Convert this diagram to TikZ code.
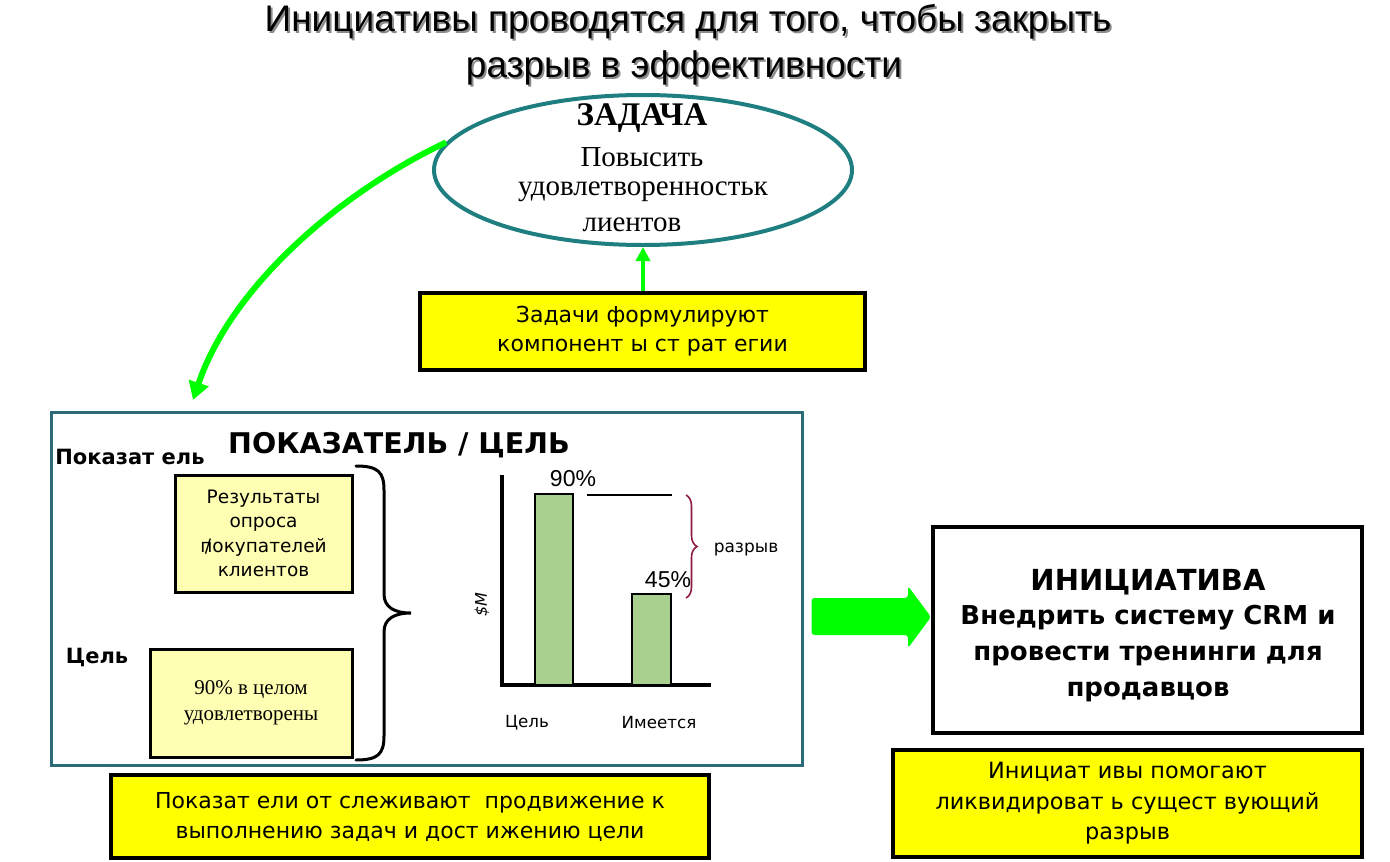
\documentclass[tikz,border=0pt]{standalone}
\usepackage{fontspec}
\setmainfont{Liberation Sans}
\newfontfamily\tms{Liberation Serif}
\newfontfamily\tah{DejaVu Sans}
\usetikzlibrary{arrows.meta,decorations.pathreplacing,shapes.geometric}
\definecolor{ybox}{HTML}{FFFF00}
\definecolor{lybox}{HTML}{FFFFB3}
\definecolor{teal1}{HTML}{1F7F80}
\definecolor{teal2}{HTML}{2E6B78}
\definecolor{gArrow}{HTML}{00FF00}
\definecolor{barg}{HTML}{A9D08E}
\definecolor{gapred}{HTML}{8B1A3C}
\begin{document}
\begin{tikzpicture}[x=1pt,y=-1pt,
  ybx/.style={draw=black,line width=4pt,fill=ybox,inner sep=0pt,align=center},
  lbx/.style={draw=black,line width=3pt,fill=lybox,inner sep=0pt,align=center},
  garrow/.style={draw=gArrow,line width=6pt,-{Triangle[length=18pt,width=20pt]}},
  txt/.style={inner sep=0pt,align=center},
  bar/.style={draw=black,line width=2pt,fill=barg}]
\useasboundingbox (0,0) rectangle (1390,862);
% title
\tikzset{ttl/.style={txt,font=\fontsize{37}{44}\selectfont}}
\node[ttl,text=black!45] at (690,24) {Инициативы проводятся для того, чтобы закрыть};
\node[ttl,text=black!45] at (686,70) {разрыв в эффективности};
\node[ttl] (title1) at (688,22) {Инициативы проводятся для того, чтобы закрыть};
\node[ttl] (title2) at (684,68) {разрыв в эффективности};
% task ellipse
\node[ellipse,draw=teal1,line width=4pt,minimum width=418pt,minimum height=150pt,inner sep=0pt] (task) at (643,170) {};
\node[txt,font=\tms\bfseries\fontsize{33}{36}\selectfont] (t1) at (642,118) {ЗАДАЧА};
\node[txt,font=\tms\fontsize{29}{32}\selectfont] (t2) at (642,157) {Повысить};
\node[txt,font=\tms\fontsize{29}{32}\selectfont] (t3) at (643,192) {удовлетворенностьк};
\node[txt,font=\tms\fontsize{29}{32}\selectfont] (t4) at (632,225) {лиентов};
% formulate box
\node[ybx,minimum width=445pt,minimum height=77pt,font=\tah\fontsize{22}{29}\selectfont] (form) at (642.5,331.5)
  {Задачи формулируют\\ компонент ы ст рат егии};
\draw[draw=gArrow,line width=4pt,-{Triangle[length=14pt,width=14pt]}] (form.north -| task.south) -- (task.south);
% curved arrow
\coordinate (ctip) at (193,400);
\draw[garrow] (task.172) .. controls (335,195) and (230,290) .. (ctip);
% big box
\node[draw=teal2,line width=3pt,minimum width=751pt,minimum height=353pt,inner sep=0pt] (kpi) at (426.5,588.5) {};
\node[txt,font=\tah\bfseries\fontsize{28.5}{32}\selectfont] (kpititle) at (399,445) {ПОКАЗАТЕЛЬ / ЦЕЛЬ};
\node[txt,font=\tah\bfseries\fontsize{21}{24}\selectfont] (lbl1) at (130,457) {Показат ель};
\node[txt,font=\tah\bfseries\fontsize{21}{24}\selectfont] (lbl2) at (97,657) {Цель};
\node[lbx,minimum width=177pt,minimum height=117pt,font=\tah\fontsize{18.5}{24.5}\selectfont] (res) at (263.5,533.5)
  {Результаты\\ опроса\\ \rlap{\kern0.25em/}покупателей\\ клиентов};
\node[lbx,minimum width=202pt,minimum height=108pt,font=\tms\fontsize{21}{26}\selectfont] (goal) at (251,703)
  {90\% в целом\\ удовлетворены};
% big brace
\draw[line width=3pt,line cap=round] (356,466) .. controls (378,466) and (384,472) .. (384,490)
  -- (384,594) .. controls (384,607) and (394,613) .. (411,613)
  .. controls (394,613) and (384,619) .. (384,632)
  -- (384,736) .. controls (384,754) and (378,760) .. (356,760);
% chart
\coordinate (origin) at (502,685);
\draw[line width=4pt] (502,475) -- (origin) -- (711,685);
\draw[bar] (535,494) rectangle (573,685);
\draw[bar] (632,594) rectangle (671,685);
\draw[line width=2pt] (587,495) -- (672,495);
\node[txt,font=\fontsize{23}{26}\selectfont] (p90) at (573,479) {90\%};
\node[txt,font=\fontsize{23}{26}\selectfont] (p45) at (668,580) {45\%};
\draw[gapred,line width=1.6pt,decorate,decoration={brace,amplitude=11pt}] (686,495) -- (686,598);
\node[txt,font=\tah\fontsize{17}{20}\selectfont] (gap) at (746,549) {разрыв};
\node[txt,rotate=90,font=\tah\itshape\fontsize{16}{20}\selectfont] (dm) at (482,605) {\$M};
\node[txt,font=\tah\fontsize{16.7}{20}\selectfont] (xl1) at (527,723) {Цель};
\node[txt,font=\tah\fontsize{16.7}{20}\selectfont] (xl2) at (659,723) {Имеется};
% bottom-left box
\node[ybx,minimum width=598pt,minimum height=83pt,font=\tah\fontsize{22}{30}\selectfont] (track) at (410,816.5)
  {Показат ели от слеживают\ \ продвижение к\\ выполнению задач и дост ижению цели};
% initiative box
\node[draw=black,line width=4pt,fill=white,minimum width=429pt,minimum height=206pt,inner sep=0pt] (init) at (1147.5,630) {};
\node[txt,font=\tah\bfseries\fontsize{26}{36}\selectfont] (inittext) at (1148,636)
  {\fontsize{29}{36}\selectfont ИНИЦИАТИВА\\[-2pt]
   Внедрить систему CRM и\\ провести тренинги для\\ продавцов};
\node[ybx,minimum width=469pt,minimum height=107pt,font=\tah\fontsize{22.4}{30.5}\selectfont] (help) at (1127.5,803.5)
  {Инициат ивы помогают\\ ликвидироват ь сущест вующий\\ разрыв};
% block arrow
\fill[gArrow,rounded corners=3pt] ([xshift=8pt]kpi.east |- 0,598) -- (908,598) -- (908,586) -- (init.west |- 0,617) -- (908,648) -- (908,635) -- ([xshift=8pt]kpi.east |- 0,635) -- cycle;
\end{tikzpicture}
\end{document}
